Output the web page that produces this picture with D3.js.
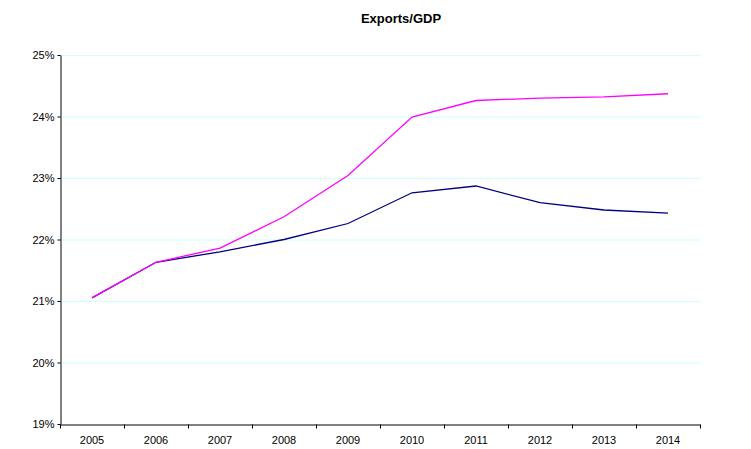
<!DOCTYPE html>
<html>
<head>
<meta charset="utf-8">
<script src="https://cdn.jsdelivr.net/npm/d3@7"></script>
<style>
  body { margin: 0; background: #fff; }
  svg { font-family: "Liberation Sans", Arial, sans-serif; }
</style>
</head>
<body>
<svg id="chart" width="751" height="449"></svg>
<script>
// data
var years = ["2005", "2006", "2007", "2008", "2009", "2010", "2011", "2012", "2013", "2014"];
var seriesPink = [21.05, 21.63, 21.86, 22.37, 23.04, 23.99, 24.26, 24.30, 24.32, 24.37];
var seriesNavy = [21.05, 21.63, 21.80, 22.00, 22.26, 22.76, 22.87, 22.60, 22.48, 22.43];
var yTicks = [19, 20, 21, 22, 23, 24, 25];

var svg = d3.select("#chart");
// plot area edges (don't call these top/left, window.top is reserved)
var plotLeft = 60, plotRight = 700, plotTop = 55, plotBottom = 424;

var x = d3.scaleBand().domain(years).range([plotLeft, plotRight]);
var y = d3.scaleLinear().domain([19, 25]).range([plotBottom, plotTop]);

// gridlines
svg.append("g").selectAll("line")
    .data(yTicks.slice(1))
    .enter().append("line")
    .attr("x1", plotLeft).attr("x2", plotRight)
    .attr("y1", function(d){ return y(d) + 0.5; })
    .attr("y2", function(d){ return y(d) + 0.5; })
    .attr("stroke", "#ccffff").attr("stroke-width", 1);

// title
svg.append("text")
    .attr("x", 401).attr("y", 23)
    .attr("text-anchor", "middle")
    .style("font-size", "13px").style("font-weight", "bold")
    .text("Exports/GDP");

// y axis
var yAxis = svg.append("g")
    .attr("transform", "translate(" + (plotLeft + 0.5) + ",0)")
    .call(d3.axisLeft(y).tickValues(yTicks).tickSize(3).tickSizeOuter(0).tickPadding(3)
        .tickFormat(function(d){ return d + "%"; }));

// x axis, ticks at band edges
var xAxis = svg.append("g")
    .attr("transform", "translate(0," + (plotBottom + 0.5) + ")")
    .call(d3.axisBottom(x).tickSize(0).tickSizeOuter(0).tickPadding(12));
xAxis.selectAll(".edge")
    .data(years.concat(["end"]))
    .enter().append("line")
    .attr("class", "edge")
    .attr("x1", function(d, i){ return plotLeft + i * x.bandwidth() + 0.5; })
    .attr("x2", function(d, i){ return plotLeft + i * x.bandwidth() + 0.5; })
    .attr("y1", 0).attr("y2", 4)
    .attr("stroke", "#000");

[yAxis, xAxis].forEach(function(a){
    a.select(".domain").attr("stroke", "#000");
    a.selectAll("text").style("font-size", "11px").attr("fill", "#000")
        .style("font-family", "Liberation Sans, Arial, sans-serif");
});

// lines
var line = d3.line()
    .x(function(d, i){ return x(years[i]) + x.bandwidth() / 2; })
    .y(function(d){ return y(d); });

svg.append("path").datum(seriesNavy)
    .attr("d", line).attr("fill", "none")
    .attr("stroke", "#000080").attr("stroke-width", 1.3);

svg.append("path").datum(seriesPink)
    .attr("d", line).attr("fill", "none")
    .attr("stroke", "#ff00ff").attr("stroke-width", 1.3);
</script>
</body>
</html>
